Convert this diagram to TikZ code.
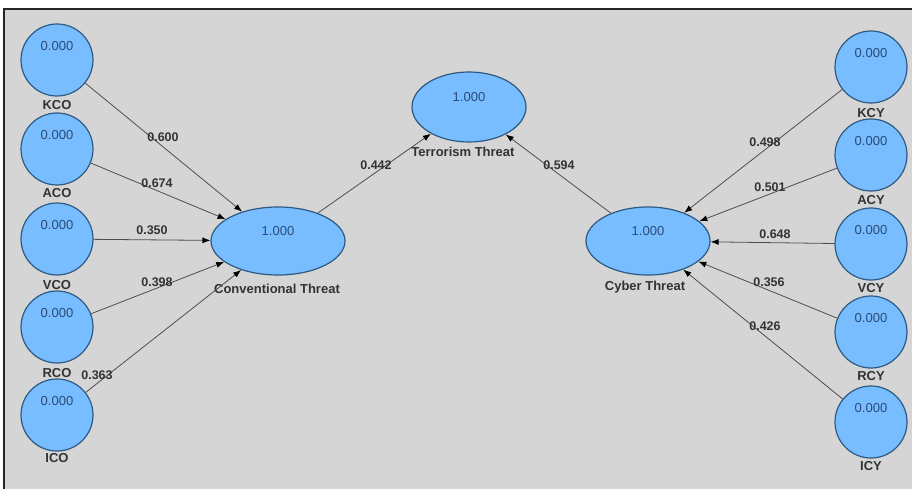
\documentclass[tikz,border=0pt]{standalone}
\usepackage{fontspec}
\setmainfont{Liberation Sans}
\usetikzlibrary{arrows.meta,shapes.geometric}
\definecolor{canvas}{HTML}{D5D5D5}
\definecolor{latent}{HTML}{78BDFF}
\definecolor{rim}{HTML}{2D5983}
\definecolor{valink}{HTML}{2A4B78}
\definecolor{ink}{HTML}{333333}
\definecolor{pathgray}{HTML}{4E4E4E}
\definecolor{frameink}{HTML}{262626}
\tikzset{
  >={Latex[length=8pt,width=6pt,color=black]},
  indicator/.style={circle,draw=rim,line width=1.2pt,fill=latent,minimum size=72pt,inner sep=0pt,font=\fontsize{13}{15}\selectfont,text=valink,text height=10pt,text depth=29pt},
  construct/.style={ellipse,draw=rim,line width=1.2pt,fill=latent,minimum height=68pt,inner sep=0pt,font=\fontsize{13}{15}\selectfont,text=valink,text height=10pt,text depth=21pt},
  vname/.style={font=\bfseries\fontsize{13}{15}\selectfont,text=ink,inner sep=1pt},
  weight/.style={font=\bfseries\fontsize{12.5}{14}\selectfont,text=ink,inner sep=0pt},
  load/.style={->,draw=pathgray,line width=0.8pt},
}

\begin{document}
\begin{tikzpicture}[x=1pt,y=-1pt]

\useasboundingbox (0,0) rectangle (912,489);
\fill[canvas] (4,9) rectangle (912,489);
\draw[frameink,line width=1.8pt] (4,489) -- (4,9) -- (912,9);

\node[indicator] (KCO) at (57,60) {0.000};
\node[vname] (KCO-name) at (57,105) {KCO};
\node[indicator] (ACO) at (57,149) {0.000};
\node[vname] (ACO-name) at (57,193) {ACO};
\node[indicator] (VCO) at (57,239) {0.000};
\node[vname] (VCO-name) at (57,285) {VCO};
\node[indicator] (RCO) at (57,327) {0.000};
\node[vname] (RCO-name) at (57,373) {RCO};
\node[indicator] (ICO) at (57,415) {0.000};
\node[vname] (ICO-name) at (57,458) {ICO};

\node[indicator] (KCY) at (871,67) {0.000};
\node[vname] (KCY-name) at (871,113) {KCY};
\node[indicator] (ACY) at (871,155) {0.000};
\node[vname] (ACY-name) at (871,200) {ACY};
\node[indicator] (VCY) at (871,244) {0.000};
\node[vname] (VCY-name) at (871,288) {VCY};
\node[indicator] (RCY) at (871,332) {0.000};
\node[vname] (RCY-name) at (871,376) {RCY};
\node[indicator] (ICY) at (871,422) {0.000};
\node[vname] (ICY-name) at (871,466) {ICY};

\node[construct,minimum width=134pt] (conv) at (278,241) {1.000};
\node[vname] (conv-name) at (277,289) {Conventional Threat};
\node[construct,minimum width=114pt,minimum height=70pt] (terror) at (469,107) {1.000};
\node[vname] (terror-name) at (463,152) {Terrorism Threat};
\node[construct,minimum width=124pt] (cyber) at (648,241) {1.000};
\node[vname] (cyber-name) at (645,287) {Cyber Threat};

\draw[load] (KCO) -- (conv);
\draw[load] (ACO) -- (conv);
\draw[load] (VCO) -- (conv);
\draw[load] (RCO) -- (conv);
\draw[load] (ICO) -- (conv);
\draw[load] (KCY) -- (cyber);
\draw[load] (ACY) -- (cyber);
\draw[load] (VCY) -- (cyber);
\draw[load] (RCY) -- (cyber);
\draw[load] (ICY) -- (cyber);
\draw[load] (conv) -- (terror);
\draw[load] (cyber) -- (terror);

\node[weight] (w-KCO) at (163,137) {0.600};
\node[weight] (w-ACO) at (157,183) {0.674};
\node[weight] (w-VCO) at (152,230) {0.350};
\node[weight] (w-RCO) at (157,282) {0.398};
\node[weight] (w-ICO) at (97,375) {0.363};
\node[weight] (w-KCY) at (765,142) {0.498};
\node[weight] (w-ACY) at (770,187) {0.501};
\node[weight] (w-VCY) at (775,234) {0.648};
\node[weight] (w-RCY) at (769,282) {0.356};
\node[weight] (w-ICY) at (765,326) {0.426};
\node[weight] (w-conv) at (376,165) {0.442};
\node[weight] (w-cyber) at (559,165) {0.594};

\end{tikzpicture}
\end{document}
